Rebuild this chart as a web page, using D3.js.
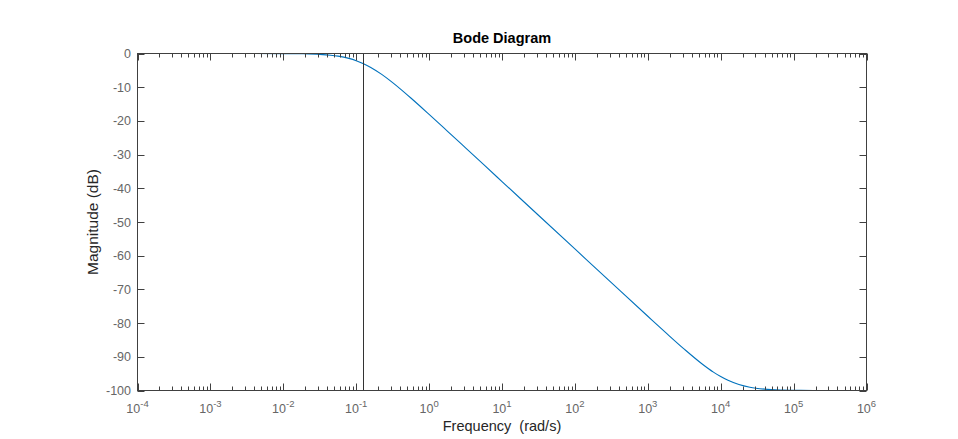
<!DOCTYPE html>
<html><head><meta charset="utf-8">
<script src="https://cdn.jsdelivr.net/npm/d3@7"></script>
<style>
html,body{margin:0;padding:0;background:#fff;}
svg{display:block;font-family:"Liberation Sans",Arial,Helvetica,sans-serif;}
</style></head>
<body>
<svg id="chart" width="958" height="439"></svg>
<script>
// Frequencies (rad/s) and magnitude (dB)
const freq = [1e-4, 1e-3, 3.162e-3, 1e-2, 0.01778, 0.03162, 0.04467, 0.05623, 0.07943, 0.1,
  0.1259, 0.1585, 0.2239, 0.3162, 0.3981, 0.5623, 1, 1.778, 3.162, 5.623, 10, 31.62, 100,
  316.2, 1000, 1778, 3162, 5623, 7943, 10000, 12590, 17780, 25120, 39810, 70790, 125900,
  316200, 1e6];
const magDb = [0, 0, -0.003, -0.027, -0.086, -0.266, -0.515, -0.79, -1.455, -2.125,
  -3.01, -4.125, -6.193, -8.639, -10.414, -13.212, -18.069, -23.021, -28.007, -33.0, -38.0, -48.0, -58.0,
  -67.997, -77.97, -82.91, -87.73, -92.21, -94.55, -95.875, -96.99, -98.24, -99.03, -99.59, -99.865, -99.957,
  -99.993, -100.0];
const markerFreq = 0.1259;
const xDecades = [-4, -3, -2, -1, 0, 1, 2, 3, 4, 5, 6];
const yTicks = [0, -10, -20, -30, -40, -50, -60, -70, -80, -90, -100];
const titleText = "Bode Diagram";
const xLabel = "Frequency  (rad/s)";
const yLabel = "Magnitude (dB)";

const svg = d3.select("#chart");
const L = 137.5, R = 866.5, T = 53.5, B = 390.5;
const x = d3.scaleLog().domain([1e-4, 1e6]).range([L, R]);
const y = d3.scaleLinear().domain([-100, 0]).range([B, T]);
const axisCol = "#404040";
const textCol = "#666666";

const minor = [];
for (let k = -4; k < 6; k++) for (let m = 2; m <= 9; m++) minor.push(m * Math.pow(10, k));
const major = xDecades.map(d => Math.pow(10, d));

const g = svg.append("g");
const line = d3.line().x((d, i) => x(freq[i])).y((d, i) => y(magDb[i])).curve(d3.curveMonotoneX);
g.append("path").datum(magDb).attr("d", line).attr("fill", "none")
  .attr("stroke", "#0072BD").attr("stroke-width", 1.1);

g.append("line").attr("x1", Math.round(x(markerFreq)) + 0.5).attr("x2", Math.round(x(markerFreq)) + 0.5)
  .attr("y1", T).attr("y2", B).attr("stroke", "#333").attr("stroke-width", 1);

const tk = svg.append("g").attr("stroke", axisCol).attr("stroke-width", 1);
major.forEach(v => {
  const px = Math.round(x(v)) + 0.5;
  tk.append("line").attr("x1", px).attr("x2", px).attr("y1", B).attr("y2", B - 7);
  tk.append("line").attr("x1", px).attr("x2", px).attr("y1", T).attr("y2", T + 7);
});
minor.forEach(v => {
  const px = Math.round(x(v)) + 0.5;
  tk.append("line").attr("x1", px).attr("x2", px).attr("y1", B).attr("y2", B - 4);
  tk.append("line").attr("x1", px).attr("x2", px).attr("y1", T).attr("y2", T + 4);
});
yTicks.forEach(v => {
  const py = Math.round(y(v)) + 0.5;
  tk.append("line").attr("x1", L).attr("x2", L + 7).attr("y1", py).attr("y2", py);
  tk.append("line").attr("x1", R).attr("x2", R - 7).attr("y1", py).attr("y2", py);
});
svg.append("rect").attr("x", L).attr("y", T).attr("width", R - L).attr("height", B - T)
  .attr("fill", "none").attr("stroke", axisCol).attr("stroke-width", 1);

svg.append("g").selectAll("text").data(yTicks).join("text")
  .attr("x", 131).attr("y", d => y(d) + 4.5).attr("text-anchor", "end")
  .attr("font-size", 12.5).attr("fill", textCol).text(d => d);

const xl = svg.append("g");
xDecades.forEach(k => {
  const t = xl.append("text").attr("x", x(Math.pow(10, k))).attr("y", 412.5)
    .attr("text-anchor", "middle").attr("font-size", 12.5).attr("fill", textCol);
  t.append("tspan").text("10");
  t.append("tspan").attr("dy", -6).attr("font-size", 9.5).text(k);
});

svg.append("text").attr("x", (L + R) / 2).attr("y", 42.5).attr("text-anchor", "middle")
  .attr("font-size", 14.5).attr("font-weight", "bold").attr("fill", "#000").text(titleText);
svg.append("text").attr("x", (L + R) / 2).attr("y", 431).attr("text-anchor", "middle")
  .attr("font-size", 14.5).attr("fill", "#262626").style("white-space", "pre").text(xLabel);
svg.append("text").attr("transform", `translate(97.5,${(T + B) / 2}) rotate(-90)`).attr("text-anchor", "middle")
  .attr("font-size", 15.5).attr("fill", "#262626").text(yLabel);
</script>
</body></html>
